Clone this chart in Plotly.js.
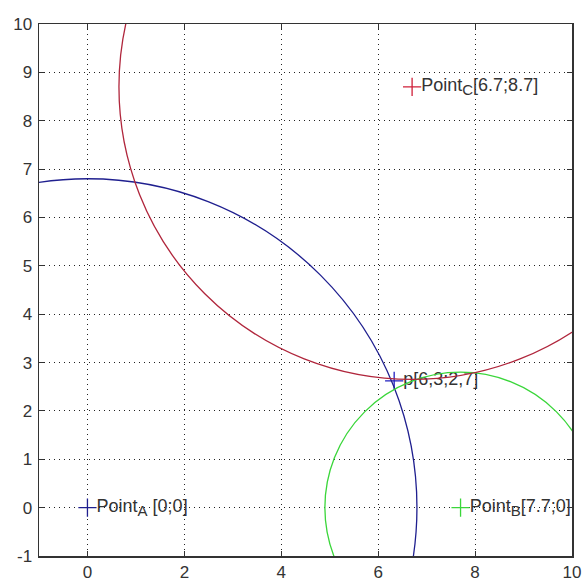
<!DOCTYPE html>
<html><head><meta charset="utf-8">
<script src="https://cdn.plot.ly/plotly-3.0.1.min.js"></script>
<style>html,body{margin:0;padding:0;background:#fff}</style>
</head><body><div id="chart" style="width:587px;height:581px"></div>
<script>
// Circle centers and radii
const circleNames = ["A", "B", "C"];
const centerX = [0, 7.7, 6.7];
const centerY = [0, 0, 8.7];
const radii = [6.8, 2.8, 6.05];
const circleColors = ["#1f1f8f", "#3ad63a", "#b0263c"];

// Labelled points
const pointX = [0, 7.7, 6.7, 6.33];
const pointY = [0, 0, 8.7, 2.62];
const pointLabels = [
  "Point<sub><span style=\"font-size:15px\">A</span></sub> [0;0]",
  "Point<sub><span style=\"font-size:15px\">B</span></sub>[7.7;0]",
  "Point<sub><span style=\"font-size:15px\">C</span></sub>[6.7;8.7]",
  "p[6,3;2,7]"
];
const pointColors = ["#1f1f8f", "#3ad63a", "#d0203a", "#2020c0"];

const tickValsX = [0, 2, 4, 6, 8, 10];
const tickValsY = [-1, 0, 1, 2, 3, 4, 5, 6, 7, 8, 9, 10];

const shapes = circleNames.map((n, i) => ({
  type: "circle", xref: "x", yref: "y",
  x0: centerX[i] - radii[i], x1: centerX[i] + radii[i],
  y0: centerY[i] - radii[i], y1: centerY[i] + radii[i],
  line: {color: circleColors[i], width: 1.3}, layer: "above"
}));

const traces = [{
  type: "scatter", mode: "markers+text",
  x: pointX, y: pointY, text: pointLabels,
  textposition: "middle right",
  textfont: {family: "Liberation Sans, Arial, sans-serif", size: 18, color: "#333"},
  marker: {symbol: "cross-thin", size: 13, line: {color: pointColors, width: 1.3}, color: pointColors},
  cliponaxis: false, hoverinfo: "skip"
}];

const axisCommon = {
  showline: true, linecolor: "#333", linewidth: 1.5, mirror: "ticks",
  ticks: "inside", ticklen: 5, tickcolor: "#333", tickwidth: 1,
  showgrid: true, gridcolor: "#222", gridwidth: 1, griddash: "1px,4px",
  zeroline: false,
  tickfont: {family: "Liberation Sans, Arial, sans-serif", size: 17, color: "#333"}
};

const layout = {
  width: 587, height: 581,
  margin: {l: 39, r: 15, t: 24, b: 25},
  paper_bgcolor: "#fff", plot_bgcolor: "#fff",
  showlegend: false,
  xaxis: Object.assign({}, axisCommon, {range: [-1, 10], tickvals: tickValsX, ticktext: tickValsX.map(String), ticklabelstandoff: 0}),
  yaxis: Object.assign({}, axisCommon, {range: [-1, 10], tickvals: tickValsY, ticktext: tickValsY.map(String), ticklabelstandoff: 2}),
  shapes: shapes
};

Plotly.newPlot("chart", traces, layout, {displayModeBar: false, staticPlot: true});
</script></body></html>
